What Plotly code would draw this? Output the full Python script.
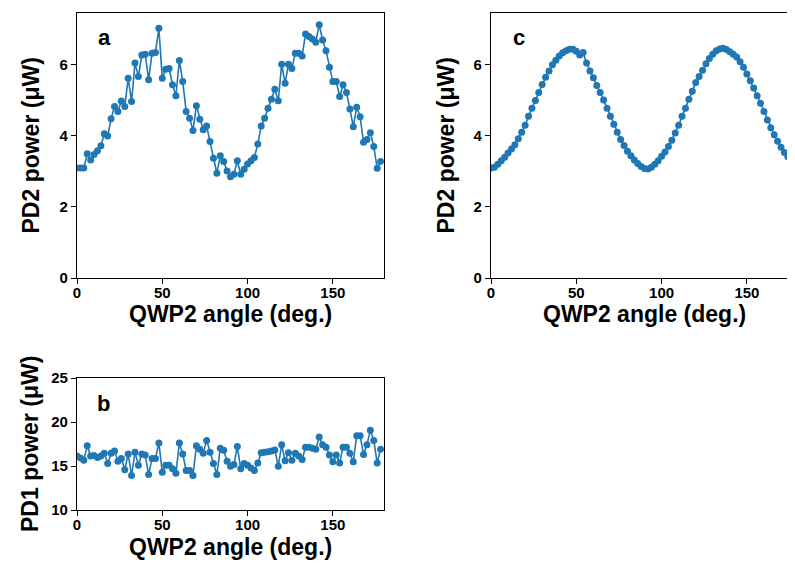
import plotly.graph_objects as go

angles = list(range(0, 180, 2))

pd2_power_a = [
    3.10, 3.10, 3.10, 3.50, 3.32, 3.48, 3.58, 3.72, 4.06, 4.00,
    4.48, 4.83, 4.69, 4.98, 4.83, 5.62, 4.97, 6.05, 5.67, 6.28,
    6.30, 5.58, 6.33, 6.35, 7.03, 5.62, 5.88, 5.90, 5.44, 5.13,
    6.12, 5.53, 4.69, 4.50, 4.15, 4.85, 4.47, 4.17, 4.28, 3.84,
    3.37, 2.95, 3.44, 3.28, 3.01, 2.85, 2.92, 3.30, 2.92, 3.06,
    3.21, 3.30, 3.39, 3.77, 4.28, 4.50, 4.78, 5.03, 5.31, 4.99,
    6.02, 5.48, 6.02, 5.90, 6.33, 6.33, 6.25, 6.87, 6.80, 6.73,
    6.64, 7.13, 6.70, 6.40, 5.93, 5.53, 5.53, 5.11, 5.44, 5.22,
    4.76, 4.26, 4.81, 4.54, 3.82, 3.90, 4.09, 3.70, 3.09, 3.28,
]

pd1_power_b = [
    16.13, 15.90, 15.66, 17.29, 16.13, 16.20, 15.97, 16.13, 16.44, 15.28,
    16.44, 16.71, 15.55, 15.86, 14.58, 16.36, 13.92, 16.55, 15.08, 16.36,
    16.24, 14.03, 15.86, 15.86, 17.60, 14.30, 15.08, 15.08, 14.69, 14.19,
    17.60, 16.36, 14.50, 14.50, 13.92, 17.29, 16.90, 16.44, 17.91, 16.55,
    15.28, 14.03, 17.02, 16.79, 15.55, 14.97, 15.16, 17.21, 14.69, 15.28,
    15.08, 14.77, 14.50, 15.35, 16.51, 16.55, 16.63, 16.71, 16.83, 14.97,
    17.41, 15.60, 16.51, 15.66, 16.44, 16.13, 15.74, 17.14, 17.14, 17.02,
    16.90, 18.30, 17.41, 17.14, 16.24, 15.47, 16.24, 15.35, 17.14, 17.14,
    16.44, 15.47, 18.45, 18.45, 16.32, 17.41, 19.07, 17.91, 15.35, 16.90,
]

pd2_power_c = [
    3.10, 3.12, 3.20, 3.30, 3.40, 3.52, 3.63, 3.75, 3.92, 4.10,
    4.30, 4.55, 4.78, 5.00, 5.22, 5.45, 5.65, 5.83, 6.00, 6.13,
    6.25, 6.34, 6.40, 6.44, 6.44, 6.38, 6.28, 6.35, 6.05, 5.83,
    5.64, 5.42, 5.22, 5.01, 4.78, 4.55, 4.33, 4.10, 3.90, 3.73,
    3.57, 3.44, 3.32, 3.22, 3.14, 3.08, 3.07, 3.12, 3.20, 3.30,
    3.43, 3.55, 3.70, 3.88, 4.08, 4.30, 4.55, 4.78, 5.03, 5.26,
    5.50, 5.67, 5.85, 6.03, 6.18, 6.30, 6.40, 6.45, 6.47, 6.43,
    6.37, 6.30, 6.22, 6.09, 5.93, 5.74, 5.55, 5.35, 5.13, 4.92,
    4.69, 4.45, 4.23, 4.03, 3.85, 3.68, 3.53, 3.41, 3.30, 3.22,
]

x_ticks = [0, 50, 100, 150]
pd2_ticks = [0, 2, 4, 6]
pd1_ticks = [10, 15, 20, 25]

OFF = 8  # page body margin
W, H = 795 - OFF, 575 - OFF
BLUE = "#1f77b4"
FONT = "Liberation Sans, Arial, sans-serif"


def px_x(p):
    return (p - OFF) / W


def px_y(p):
    return 1 - (p - OFF) / H


style = dict(mode="lines+markers", line=dict(color=BLUE, width=1.6),
             marker=dict(color=BLUE, size=7), showlegend=False)

fig = go.Figure()
fig.add_trace(go.Scatter(x=angles, y=pd2_power_a, xaxis="x", yaxis="y", **style))
fig.add_trace(go.Scatter(x=angles, y=pd1_power_b, xaxis="x2", yaxis="y2", **style))
fig.add_trace(go.Scatter(x=angles, y=pd2_power_c, xaxis="x3", yaxis="y3", **style))

tickfont = dict(family=FONT, size=15, color="black", weight="bold")
axis_common = dict(showline=True, linecolor="black", linewidth=1.3,
                   ticks="outside", ticklen=5, tickwidth=1.3, tickcolor="black",
                   showgrid=False, zeroline=False, tickfont=tickfont,
                   automargin=False)
xaxis_extra = dict(ticklabelstandoff=-4)

fig.update_layout(
    width=W, height=H,
    margin=dict(l=0, r=0, t=0, b=0),
    plot_bgcolor="white", paper_bgcolor="white",
    font=dict(family=FONT, color="black"),
    xaxis=dict(domain=[px_x(77), px_x(384)], range=[0, 180], tickvals=x_ticks,
               mirror=True, anchor="y", **axis_common, **xaxis_extra),
    yaxis=dict(domain=[px_y(278), px_y(13)], range=[0, 7.46], tickvals=pd2_ticks,
               mirror=True, anchor="x", **axis_common),
    xaxis2=dict(domain=[px_x(77), px_x(384)], range=[0, 180], tickvals=x_ticks,
                mirror=True, anchor="y2", **axis_common, **xaxis_extra),
    yaxis2=dict(domain=[px_y(510), px_y(378)], range=[10, 25], tickvals=pd1_ticks,
                mirror=True, anchor="x2", **axis_common),
    xaxis3=dict(domain=[px_x(491), 1.0], range=[0, (795 - 491) / 1.706],
                tickvals=x_ticks, mirror=True, anchor="y3", **axis_common, **xaxis_extra),
    yaxis3=dict(domain=[px_y(278), px_y(13)], range=[0, 7.46], tickvals=pd2_ticks,
                mirror=False, anchor="x3", **axis_common),
)

title_font = dict(family=FONT, size=23, color="black", weight="bold")
letter_font = dict(family=FONT, size=22, color="black", weight="bold")

annotations = [
    dict(text="QWP2 angle (deg.)", x=px_x(230.5), y=px_y(314), xref="paper", yref="paper",
         showarrow=False, font=title_font, xanchor="center", yanchor="middle"),
    dict(text="QWP2 angle (deg.)", x=px_x(644.5), y=px_y(314), xref="paper", yref="paper",
         showarrow=False, font=title_font, xanchor="center", yanchor="middle"),
    dict(text="QWP2 angle (deg.)", x=px_x(230.5), y=px_y(547), xref="paper", yref="paper",
         showarrow=False, font=title_font, xanchor="center", yanchor="middle"),
    dict(text="PD2 power (μW)", x=px_x(30), y=px_y(145.5), xref="paper", yref="paper",
         showarrow=False, font=title_font, textangle=-90, xanchor="center", yanchor="middle"),
    dict(text="PD2 power (μW)", x=px_x(445), y=px_y(145.5), xref="paper", yref="paper",
         showarrow=False, font=title_font, textangle=-90, xanchor="center", yanchor="middle"),
    dict(text="PD1 power (μW)", x=px_x(30), y=px_y(444), xref="paper", yref="paper",
         showarrow=False, font=title_font, textangle=-90, xanchor="center", yanchor="middle"),
    dict(text="a", x=0.088, y=0.906, xref="x domain", yref="y domain",
         showarrow=False, font=letter_font, xanchor="center", yanchor="middle"),
    dict(text="b", x=0.085, y=0.81, xref="x2 domain", yref="y2 domain",
         showarrow=False, font=letter_font, xanchor="center", yanchor="middle"),
    dict(text="c", x=0.092, y=0.906, xref="x3 domain", yref="y3 domain",
         showarrow=False, font=letter_font, xanchor="center", yanchor="middle"),
]
fig.update_layout(annotations=annotations)

fig.write_html("out.html")
